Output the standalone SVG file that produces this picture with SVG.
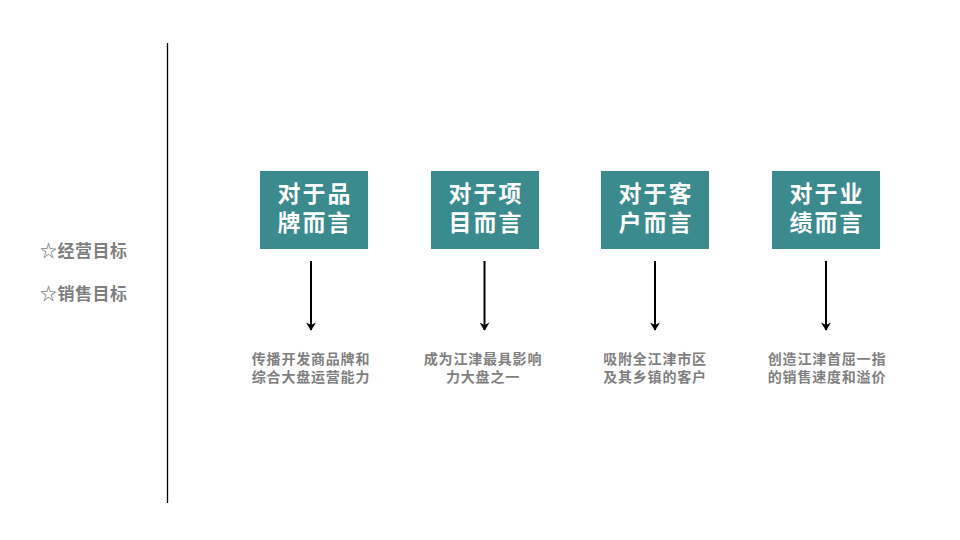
<svg xmlns="http://www.w3.org/2000/svg" width="960" height="540" viewBox="0 0 960 540">
<defs>
<marker id="ah" viewBox="0 0 10 12" refX="9" refY="6" markerWidth="9" markerHeight="10" orient="auto" markerUnits="userSpaceOnUse">
<path d="M0,0 L10,6 L0,12 L3,6 z" fill="#000"/>
</marker>
<style>
.box{fill:#3b8a8e}
.bt{font-family:"Liberation Sans","Noto Sans CJK SC",sans-serif;font-size:23px;font-weight:bold;fill:#fff;text-anchor:middle;letter-spacing:2px}
.dt{font-family:"Liberation Sans","Noto Sans CJK SC",sans-serif;font-size:14px;font-weight:bold;fill:#7f7f7f;text-anchor:middle;letter-spacing:0.8px}
.lt{font-family:"Liberation Sans","Noto Sans CJK SC",sans-serif;font-size:17px;font-weight:bold;fill:#7f7f7f;letter-spacing:0.5px}
.con{stroke:#000;stroke-width:2;fill:none}
</style>
</defs>
<rect width="960" height="540" fill="#fff"/>
<line x1="167.5" y1="43" x2="167.5" y2="503" stroke="#000" stroke-width="1.3"/>
<g id="left-labels">
<text class="lt" x="40" y="257">☆经营目标</text>
<text class="lt" x="40" y="300">☆销售目标</text>
</g>
<g id="node1">
<rect class="box" x="260" y="171" width="108" height="78"/>
<text class="bt" x="315" y="202">对于品</text>
<text class="bt" x="315" y="231">牌而言</text>
</g>
<g id="node2">
<rect class="box" x="431" y="171" width="108" height="78"/>
<text class="bt" x="486" y="202">对于项</text>
<text class="bt" x="486" y="231">目而言</text>
</g>
<g id="node3">
<rect class="box" x="601" y="171" width="108" height="78"/>
<text class="bt" x="656" y="202">对于客</text>
<text class="bt" x="656" y="231">户而言</text>
</g>
<g id="node4">
<rect class="box" x="772" y="171" width="108" height="78"/>
<text class="bt" x="827" y="202">对于业</text>
<text class="bt" x="827" y="231">绩而言</text>
</g>
<g id="connectors">
<line class="con" x1="311" y1="261" x2="311" y2="330" marker-end="url(#ah)"/>
<line class="con" x1="484.5" y1="261" x2="484.5" y2="330" marker-end="url(#ah)"/>
<line class="con" x1="655" y1="261" x2="655" y2="330" marker-end="url(#ah)"/>
<line class="con" x1="826" y1="261" x2="826" y2="330" marker-end="url(#ah)"/>
</g>
<g id="desc1">
<text class="dt" x="311" y="364">传播开发商品牌和</text>
<text class="dt" x="311" y="382">综合大盘运营能力</text>
</g>
<g id="desc2">
<text class="dt" x="483" y="364">成为江津最具影响</text>
<text class="dt" x="483" y="382">力大盘之一</text>
</g>
<g id="desc3">
<text class="dt" x="655" y="364">吸附全江津市区</text>
<text class="dt" x="655" y="382">及其乡镇的客户</text>
</g>
<g id="desc4">
<text class="dt" x="827" y="364">创造江津首屈一指</text>
<text class="dt" x="827" y="382">的销售速度和溢价</text>
</g>
</svg>
